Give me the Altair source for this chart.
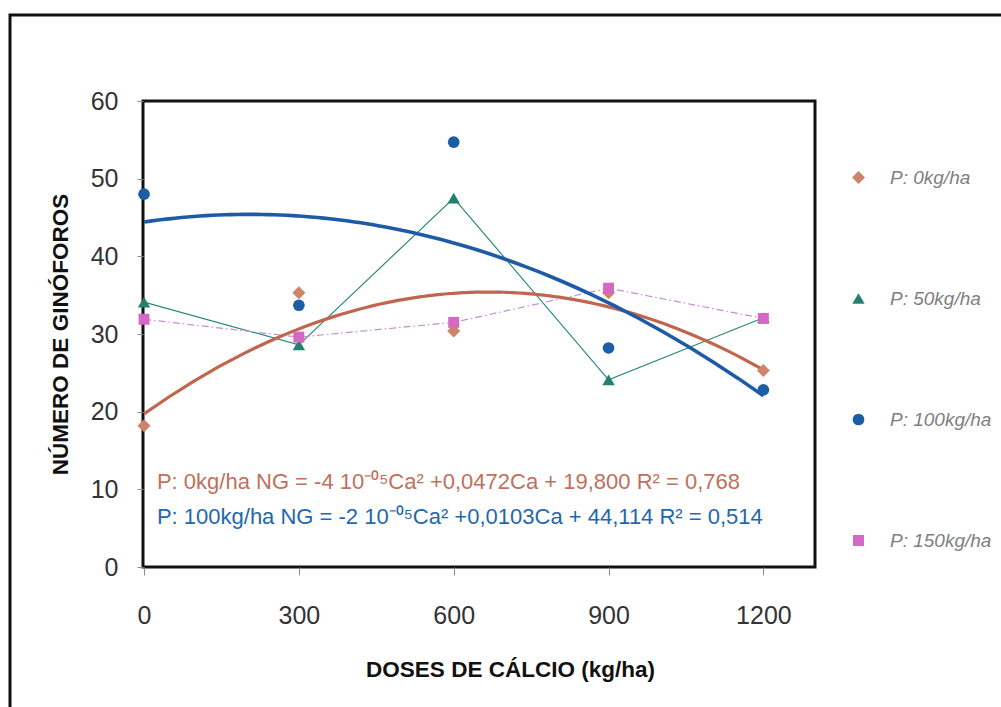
import altair as alt
import pandas as pd

doses = [0, 300, 600, 900, 1200]
series = ["P: 0kg/ha", "P: 50kg/ha", "P: 100kg/ha", "P: 150kg/ha"]
p0 = [18.2, 35.3, 30.4, 35.3, 25.3]
p50 = [34.1, 28.6, 47.5, 24.1, 32.1]
p100 = [48.0, 33.7, 54.7, 28.2, 22.8]
p150 = [31.9, 29.6, 31.5, 35.9, 32.0]
y_ticks = [0, 10, 20, 30, 40, 50, 60]
eq1 = ["P: 0kg/ha NG = -4 10\u207b\u2070\u2075Ca\u00b2 +0,0472Ca + 19,800 R\u00b2 = 0,768"]
eq2 = ["P: 100kg/ha NG = -2 10\u207b\u2070\u2075Ca\u00b2 +0,0103Ca + 44,114 R\u00b2 = 0,514"]

point_colors = ["#cd8468", "#23806e", "#1b5ea6", "#d468c4"]
shapes = ["diamond", "triangle-up", "circle", "square"]
marker_sizes = [170, 120, 105, 100]

rows = []
for name, vals in zip(series, [p0, p50, p100, p150]):
    for d, v in zip(doses, vals):
        rows.append({"series": name, "dose": d, "ng": v})
df = pd.DataFrame(rows)

FONT = "Liberation Sans, Arial"

X = alt.X("dose:Q",
          scale=alt.Scale(domain=[-2, 1300], nice=False, zero=False),
          axis=alt.Axis(values=doses, title="DOSES DE CÁLCIO (kg/ha)", grid=False, domain=False,
                        tickColor="#8a8a8a", tickSize=8, labelFont=FONT, labelFontSize=25,
                        labelColor="#333333", labelPadding=28, titleFont=FONT, titleFontSize=22.5,
                        titleFontWeight="bold", titleColor="#111111", titleX=367, titleY=109,
                        titleBaseline="alphabetic", titleAlign="center", format="d"))
Y = alt.Y("ng:Q",
          scale=alt.Scale(domain=[0, 60], nice=False),
          axis=alt.Axis(values=y_ticks, title="NÚMERO DE GINÓFOROS", grid=False, domain=False,
                        tickColor="#8a8a8a", tickSize=6, labelFont=FONT, labelFontSize=25,
                        labelColor="#333333", labelPadding=19, titleFont=FONT, titleFontSize=22.5,
                        titleFontWeight="bold", titleColor="#111111", titleX=-71, format="d"))

base = alt.Chart(df)

frame = alt.Chart(pd.DataFrame({"a": [0]})).mark_rect(
    fillOpacity=0, stroke="#111111", strokeWidth=3
).encode(x=alt.value(-133), x2=alt.value(875), y=alt.value(-86), y2=alt.value(640))

line50 = base.transform_filter(alt.datum.series == "P: 50kg/ha").mark_line(
    color="#2a8a7a", strokeWidth=1.2).encode(x=X, y=Y)
line150 = base.transform_filter(alt.datum.series == "P: 150kg/ha").mark_line(
    color="#c48fd0", strokeWidth=1.2, strokeDash=[7, 3, 1.5, 3]).encode(x=X, y=Y)

trend0 = base.transform_filter(alt.datum.series == "P: 0kg/ha").transform_regression(
    "dose", "ng", method="poly", order=2, extent=[0, 1200]
).mark_line(color="#c0664f", strokeWidth=3.2).encode(x=X, y=Y)
trend100 = base.transform_filter(alt.datum.series == "P: 100kg/ha").transform_regression(
    "dose", "ng", method="poly", order=2, extent=[0, 1200]
).mark_line(color="#1f5aa6", strokeWidth=3.6).encode(x=X, y=Y)

legend = alt.Legend(title=None, orient="none", legendX=706, legendY=67, rowPadding=101,
                    labelFont=FONT, labelFontSize=19, labelFontStyle="italic",
                    labelColor="#808080", labelOffset=22, symbolSize=140, padding=0,
                    symbolStrokeWidth=0)
points = base.mark_point(filled=True, opacity=1).encode(
    x=X, y=Y,
    color=alt.Color("series:N", scale=alt.Scale(domain=series, range=point_colors), legend=legend),
    shape=alt.Shape("series:N", scale=alt.Scale(domain=series, range=shapes), legend=legend),
    size=alt.Size("series:N", scale=alt.Scale(domain=series, range=marker_sizes), legend=None),
)

text1 = alt.Chart(pd.DataFrame({"t": eq1})).mark_text(
    align="left", baseline="middle", font=FONT, fontSize=22, color="#c0705c"
).encode(x=alt.datum(25), y=alt.datum(10.9), text="t:N")
text2 = alt.Chart(pd.DataFrame({"t": eq2})).mark_text(
    align="left", baseline="middle", font=FONT, fontSize=22, color="#1f68ad"
).encode(x=alt.datum(25), y=alt.datum(6.4), text="t:N")

chart = alt.layer(frame, line50, line150, trend0, trend100, points, text1, text2).properties(
    width=672, height=466,
    autosize=alt.AutoSizeParams(type="none"),
    padding={"left": 143, "top": 101, "right": 186, "bottom": 140},
    background="white",
).configure_view(stroke="#111111", strokeWidth=3)

chart.save("out.html", embed_options={"renderer": "svg", "actions": False})
